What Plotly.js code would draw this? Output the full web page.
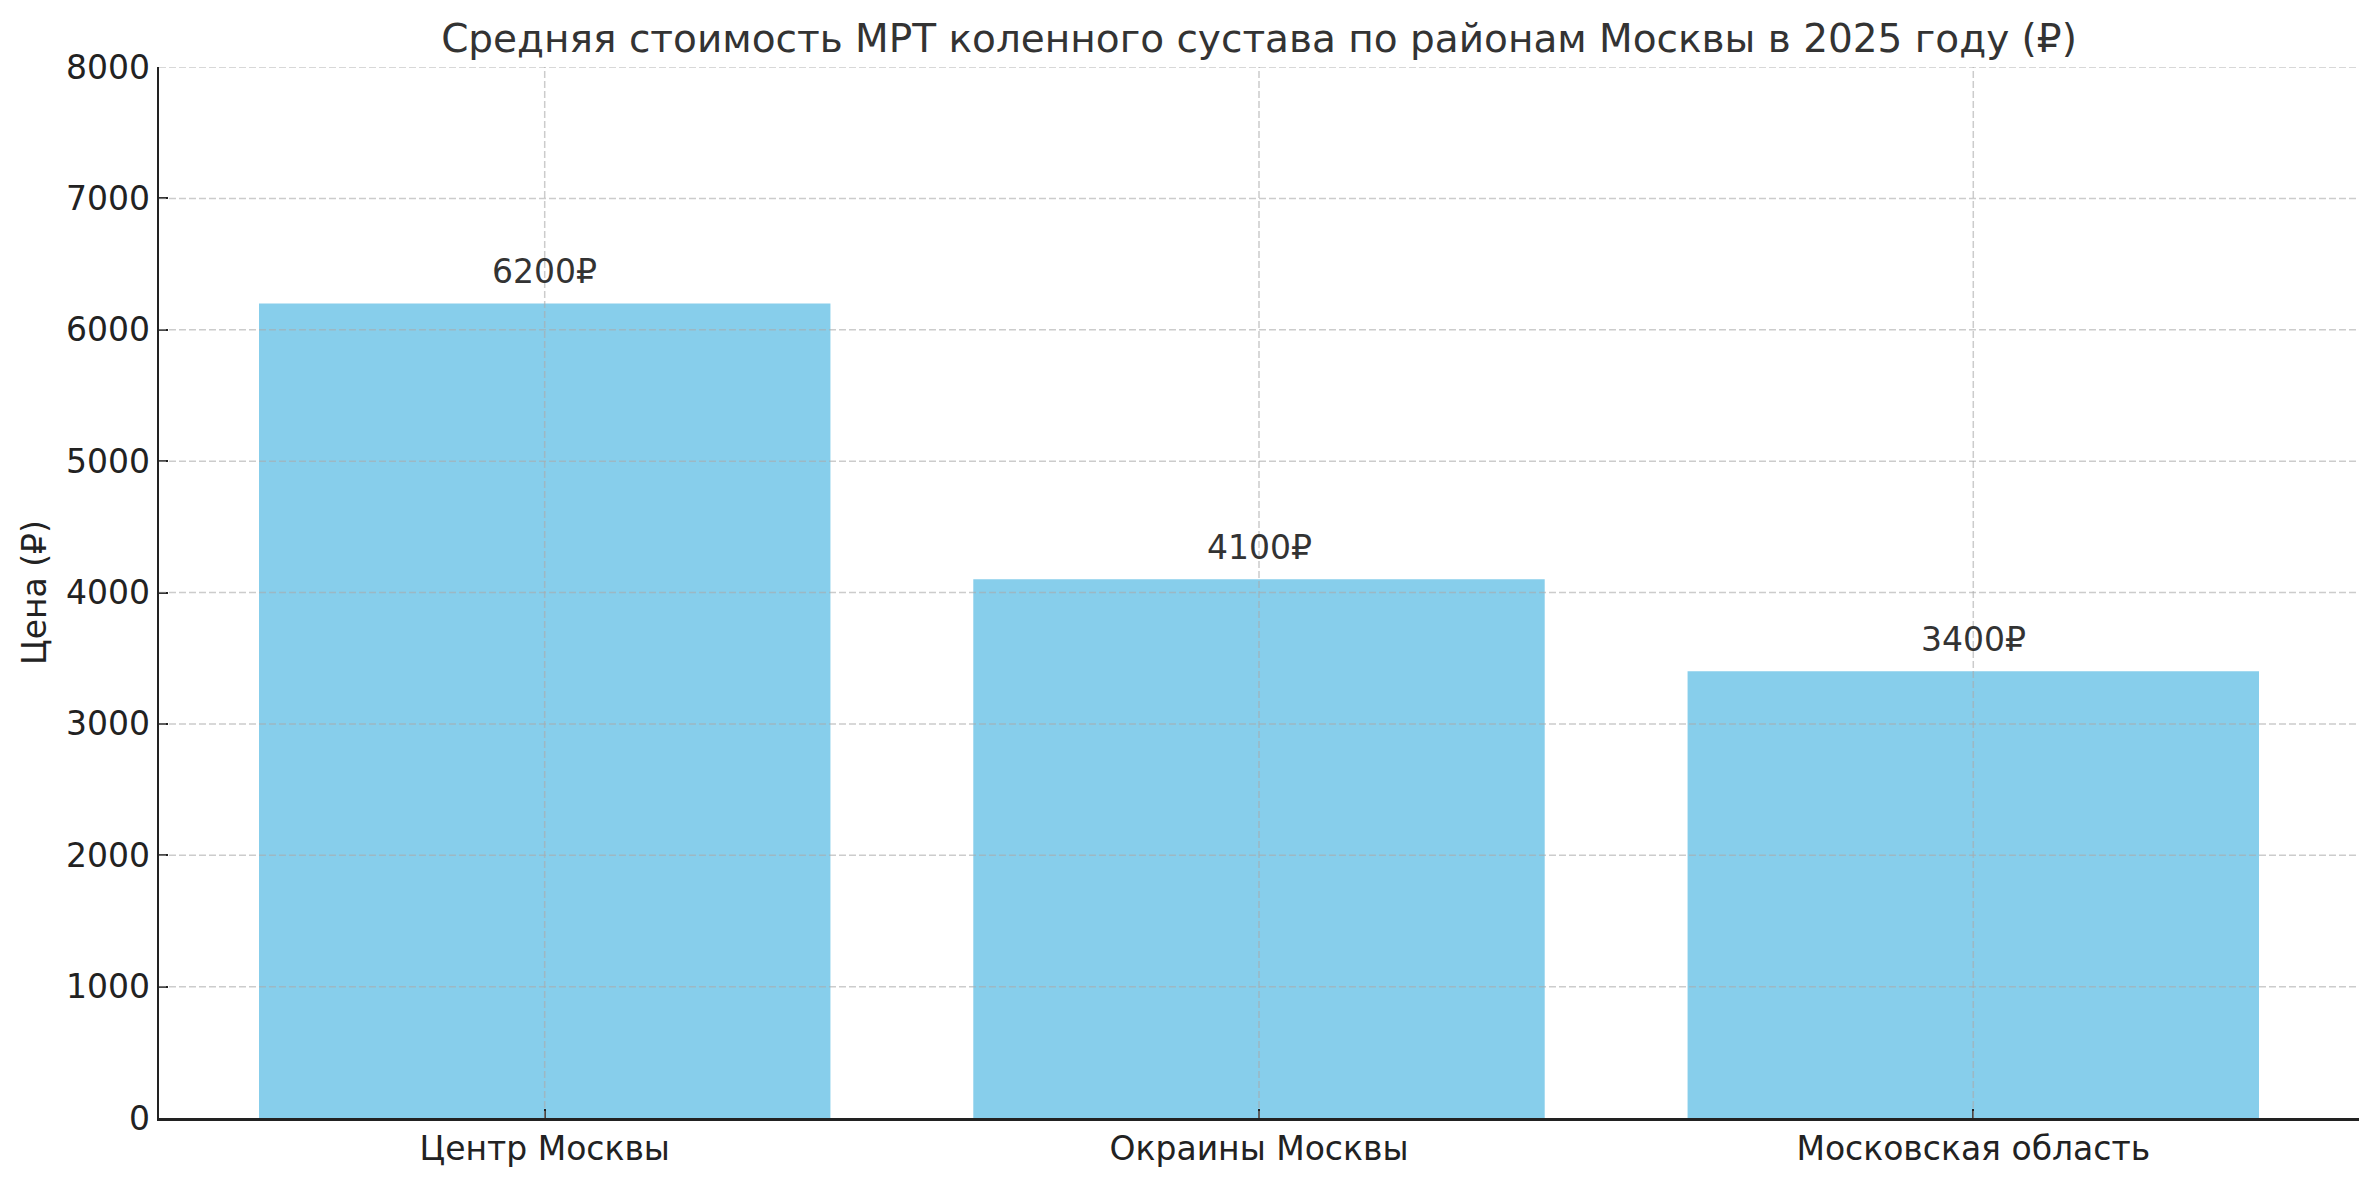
<!DOCTYPE html>
<html>
<head>
<meta charset="utf-8">
<script src="https://cdn.plot.ly/plotly-3.0.1.min.js"></script>
<style>
  html, body { margin: 0; padding: 0; background: #fff; }
  #chart { width: 2379px; height: 1180px; }
</style>
</head>
<body>
<div id="chart"></div>
<script>
const regions = ["Центр Москвы", "Окраины Москвы", "Московская область"];
const prices = [6200, 4100, 3400];
const yTicks = [0, 1000, 2000, 3000, 4000, 5000, 6000, 7000, 8000];

const FONT = "DejaVu Sans, Verdana, sans-serif";
const gridLine = { color: "rgba(170,170,170,0.6)", width: 1.5, dash: "7px,3px" };

// grid drawn over the bars, like in the original
const shapes = [];
yTicks.filter(v => v > 0).forEach(v => {
  shapes.push({ type: "line", layer: "above", xref: "paper", x0: 0, x1: 1, yref: "y", y0: v, y1: v, line: gridLine });
});
regions.forEach(r => {
  shapes.push({ type: "line", layer: "above", xref: "x", x0: r, x1: r, yref: "paper", y0: 0, y1: 1, line: gridLine });
});

const annotations = regions.map((r, i) => ({
  x: r, y: prices[i], xref: "x", yref: "y",
  text: prices[i] + "₽",
  showarrow: false, yanchor: "bottom", yshift: 10,
  font: { family: FONT, size: 33, color: "#333" }
}));

const trace = {
  type: "bar",
  x: regions,
  y: prices,
  width: 0.8,
  marker: { color: "#87CEEB" },
  hoverinfo: "none"
};

const axisCommon = {
  showline: true, linecolor: "#222", linewidth: 2.5,
  ticks: "inside", ticklen: 9, tickwidth: 2, tickcolor: "#222",
  tickfont: { family: FONT, size: 33, color: "#222" },
  showgrid: false, zeroline: false, automargin: false
};

const layout = {
  width: 2379, height: 1180,
  margin: { l: 159, r: 20, t: 67, b: 62 },
  paper_bgcolor: "#fff", plot_bgcolor: "#fff",
  showlegend: false,
  title: {
    text: "Средняя стоимость МРТ коленного сустава по районам Москвы в 2025 году (₽)",
    font: { family: FONT, size: 39, color: "#333" },
    x: 0.5, xref: "paper", y: 1 - 38 / 1180, yanchor: "middle"
  },
  xaxis: Object.assign({}, axisCommon, {
    type: "category", range: [-0.54, 2.54]
  }),
  yaxis: Object.assign({}, axisCommon, {
    range: [0, 8000], tickvals: yTicks, ticktext: yTicks.map(String),
    title: { text: "Цена (₽)", font: { family: FONT, size: 33, color: "#222" }, standoff: 10 }
  }),
  shapes: shapes,
  annotations: annotations
};

Plotly.newPlot("chart", [trace], layout, { displayModeBar: false, staticPlot: true });
</script>
</body>
</html>
